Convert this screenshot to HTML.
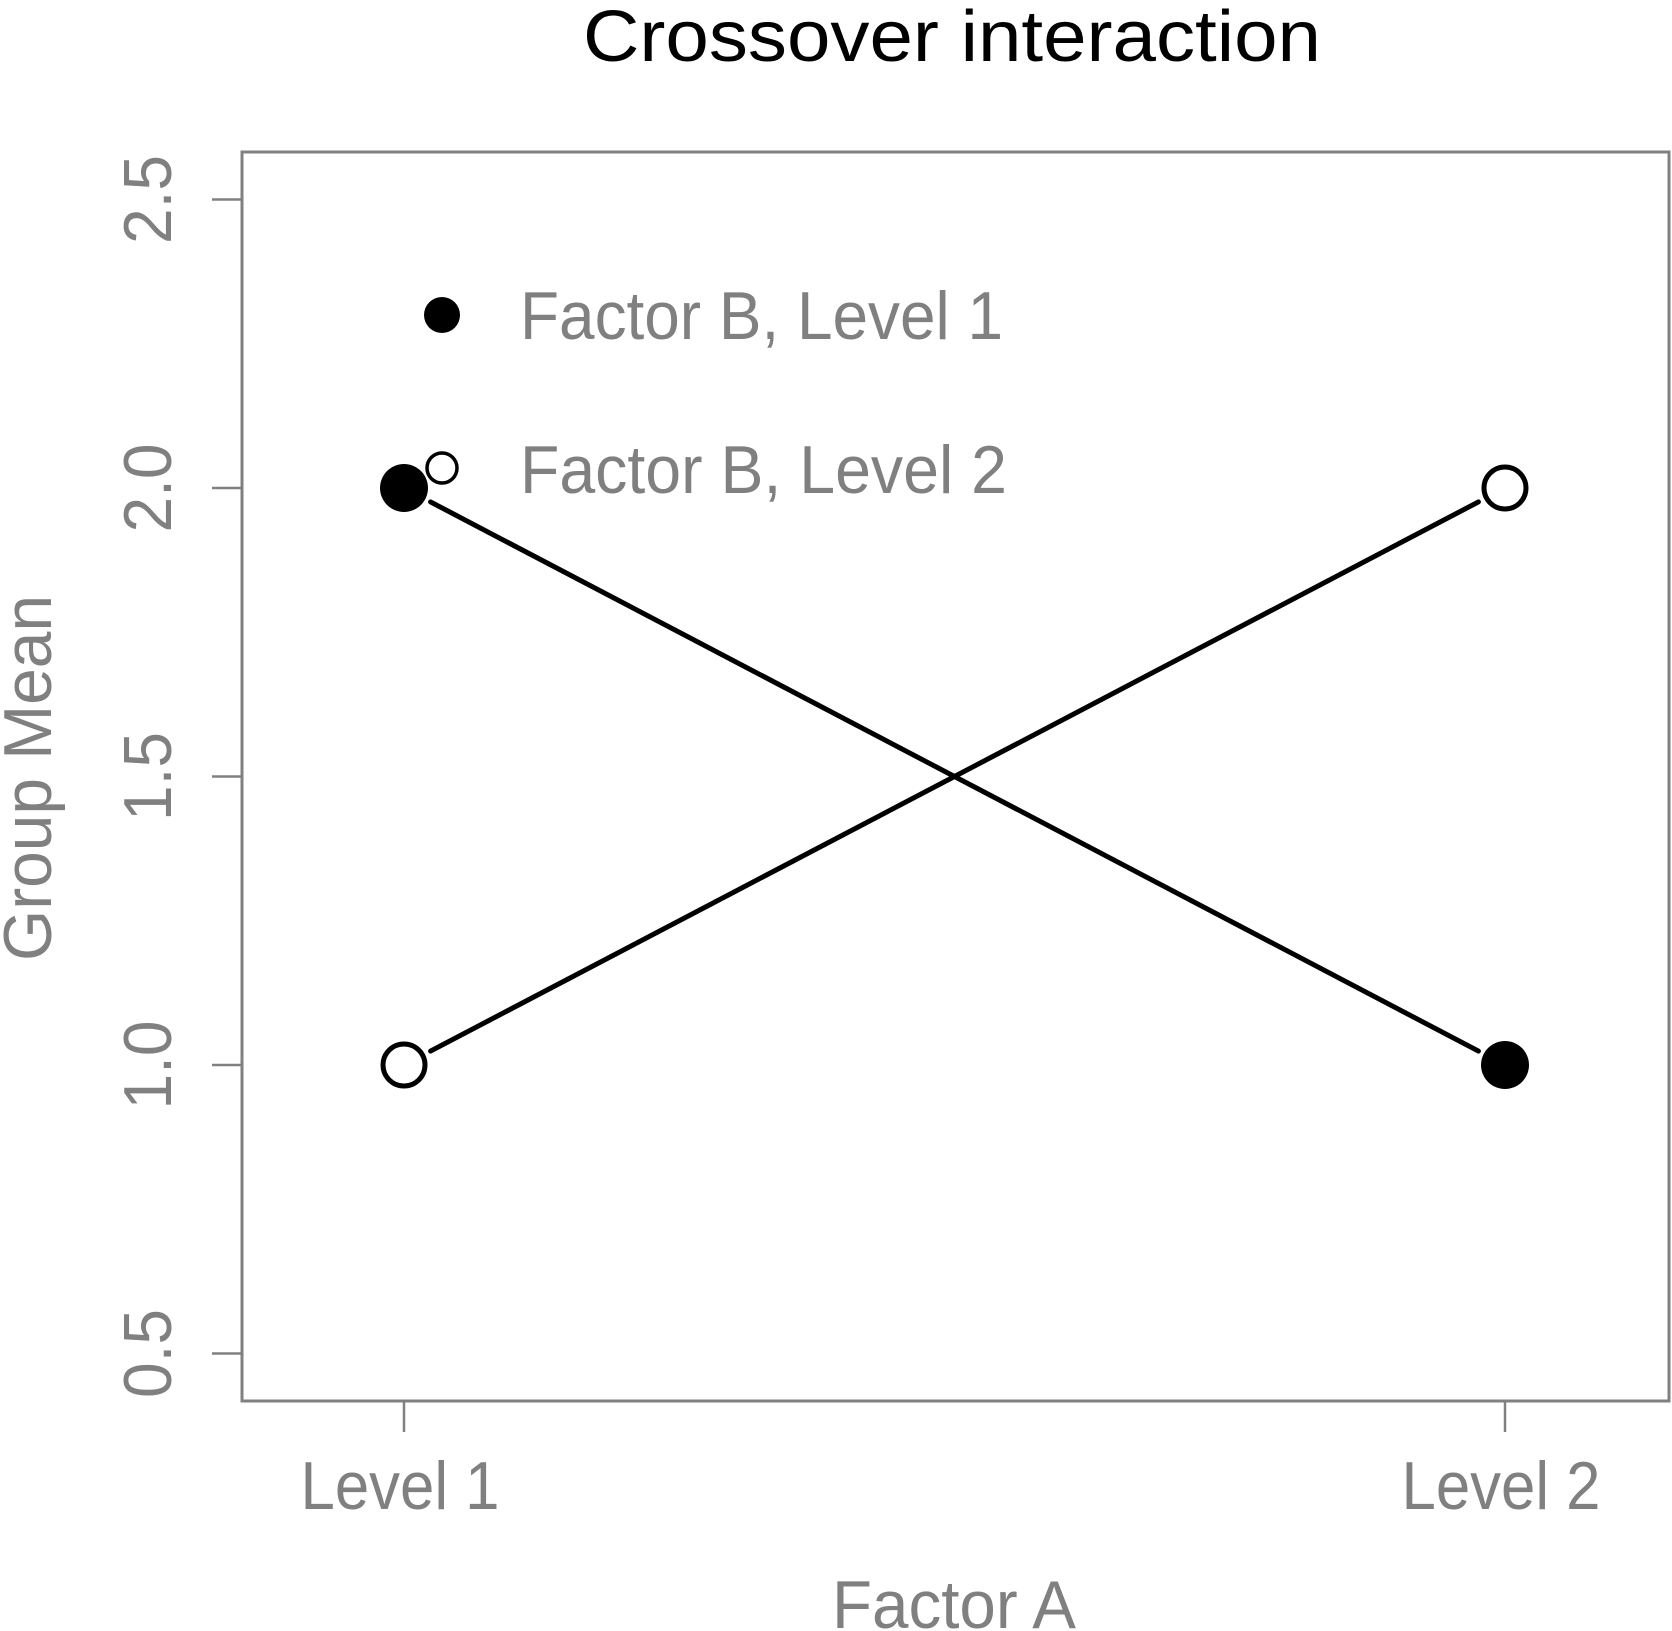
<!DOCTYPE html>
<html><head><meta charset="utf-8"><style>
html,body{margin:0;padding:0;background:#fff}
svg{display:block}
text{font-family:"Liberation Sans",Arial,sans-serif}
</style></head><body>
<svg id="chart" width="1672" height="1631" viewBox="0 0 1672 1631" xmlns="http://www.w3.org/2000/svg">
<text x="952" y="61" font-size="72" text-anchor="middle" fill="#000" textLength="738" lengthAdjust="spacingAndGlyphs">Crossover interaction</text>
<rect x="242" y="152" width="1427" height="1249" fill="none" stroke="#808080" stroke-width="3"/>
<g id="yaxis"></g>
<g id="xaxis"></g>
<text x="954" y="1628" font-size="68" text-anchor="middle" fill="#808080" textLength="244" lengthAdjust="spacingAndGlyphs">Factor A</text>
<text transform="translate(51,778) rotate(-90)" x="0" y="0" font-size="68" text-anchor="middle" fill="#808080" textLength="366" lengthAdjust="spacingAndGlyphs">Group Mean</text>
<g id="series"></g>
<g>
<circle cx="442" cy="315" r="18" fill="#000"/>
<text x="520" y="339" font-size="68" fill="#808080" textLength="483" lengthAdjust="spacingAndGlyphs">Factor B, Level 1</text>
<circle cx="442" cy="468" r="15" fill="#fff" stroke="#000" stroke-width="3.5"/>
<text x="520" y="493" font-size="68" fill="#808080" textLength="487" lengthAdjust="spacingAndGlyphs">Factor B, Level 2</text>
</g>
</svg>
<script>
const categories = ["Level 1", "Level 2"];
const seriesB1 = [2.0, 1.0];
const seriesB2 = [1.0, 2.0];
const yTicks = [0.5, 1.0, 1.5, 2.0, 2.5];
const yTickLabels = ["0.5", "1.0", "1.5", "2.0", "2.5"];

const NS = "http://www.w3.org/2000/svg";
function xPos(i){ return 404 + i * (1505 - 404); }
function yPos(v){ return 488 + (2 - v) * 577; }
function mk(tag, attrs, parent){
  const e = document.createElementNS(NS, tag);
  for (const k in attrs) e.setAttribute(k, attrs[k]);
  parent.appendChild(e);
  return e;
}
const yg = document.getElementById('yaxis');
yTicks.forEach((v, i) => {
  const t = mk('line', {x1:242, x2:212, y1:yPos(v), y2:yPos(v), stroke:'#808080', 'stroke-width':2.5}, yg);
  
  
  const l = mk('text', {transform:`translate(171,${yPos(v)}) rotate(-90)`, 'font-size':68, fill:'#808080', 'text-anchor':'middle', textLength:89, lengthAdjust:'spacingAndGlyphs'}, yg);
  l.textContent = yTickLabels[i];
  
  
});
const xg = document.getElementById('xaxis');
categories.forEach((c, i) => {
  const t = mk('line', {x1:xPos(i), x2:xPos(i), y1:1401, y2:1432, stroke:'#808080', 'stroke-width':2.5}, xg);
  
  
  const l = mk('text', {x:xPos(i) - 4, y:1509, 'font-size':68, fill:'#808080', 'text-anchor':'middle', textLength:199, lengthAdjust:'spacingAndGlyphs'}, xg);
  l.textContent = c;
  
  
});
const sg = document.getElementById('series');
function drawSeries(vals, filled, name){
  const gap = 30;
  for (let i = 0; i < vals.length - 1; i++){
    const x1 = xPos(i), y1 = yPos(vals[i]), x2 = xPos(i+1), y2 = yPos(vals[i+1]);
    const d = Math.hypot(x2-x1, y2-y1), ux = (x2-x1)/d, uy = (y2-y1)/d;
    const ln = mk('line', {x1:x1+ux*gap, y1:y1+uy*gap, x2:x2-ux*gap, y2:y2-uy*gap, stroke:'#000', 'stroke-width':5, 'stroke-linecap':'round'}, sg);
    
    
  }
  vals.forEach((v, i) => {
    const c = filled
      ? mk('circle', {cx:xPos(i), cy:yPos(v), r:24, fill:'#000'}, sg)
      : mk('circle', {cx:xPos(i), cy:yPos(v), r:21, fill:'#fff', stroke:'#000', 'stroke-width':5}, sg);
    
    
  });
}
drawSeries(seriesB1, true, 'factor-b-level-1');
drawSeries(seriesB2, false, 'factor-b-level-2');
</script>
</body></html>
